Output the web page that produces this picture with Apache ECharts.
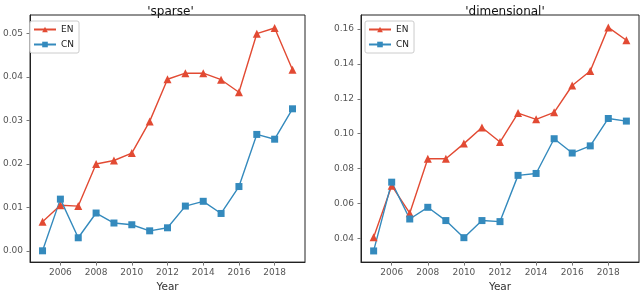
<!DOCTYPE html>
<html>
<head>
<meta charset="utf-8">
<script src="https://cdn.jsdelivr.net/npm/echarts@6/dist/echarts.min.js"></script>
<style>
html,body{margin:0;padding:0;background:#fff;}
#main{width:640px;height:298px;}
</style>
</head>
<body>
<div id="main"></div>
<script>
var years = [2005, 2006, 2007, 2008, 2009, 2010, 2011, 2012, 2013, 2014, 2015, 2016, 2017, 2018, 2019];
var sparseEN = [0.0067, 0.0105, 0.0103, 0.0200, 0.0208, 0.0225, 0.0298, 0.0395, 0.0409, 0.0409, 0.0394, 0.0365, 0.0500, 0.0513, 0.0417];
var sparseCN = [0.0000, 0.0119, 0.0030, 0.0087, 0.0064, 0.0060, 0.0046, 0.0053, 0.0103, 0.0114, 0.0086, 0.0148, 0.0268, 0.0257, 0.0327];
var dimEN = [0.0406, 0.0702, 0.0544, 0.0856, 0.0856, 0.0943, 0.1035, 0.0952, 0.1118, 0.1082, 0.1122, 0.1276, 0.1359, 0.1609, 0.1535];
var dimCN = [0.0328, 0.0722, 0.0511, 0.0578, 0.0502, 0.0404, 0.0502, 0.0496, 0.0761, 0.0772, 0.0971, 0.0889, 0.0930, 0.1087, 0.1072];
var titles = ["'sparse'", "'dimensional'"];
var seriesNames = ['EN', 'CN'];

var RED = '#E24A33', BLUE = '#348ABD';
var FONT = 'DejaVu Sans';

function pairs(vals) { return years.map(function (y, i) { return [y, vals[i]]; }); }

var chart = echarts.init(document.getElementById('main'), null, {renderer: 'canvas'});

function xAxis(gi) {
  return {
    type: 'value', gridIndex: gi, min: 2004.3, max: 2019.7, splitNumber: 7,
    name: 'Year', nameLocation: 'middle', nameGap: 15,
    nameTextStyle: {fontFamily: FONT, fontSize: 10.5, color: '#333'},
    axisLine: {show: true, onZero: false, lineStyle: {color: '#222', width: 1}},
    axisTick: {show: true, length: 3.5, lineStyle: {color: '#777'}},
    axisLabel: {fontFamily: FONT, fontSize: 9, color: '#555', margin: 6, showMinLabel: false, showMaxLabel: false,
      formatter: function (v) { return String(Math.round(v)); }},
    splitLine: {show: false}
  };
}
function yAxis(gi, mn, mx, sn) {
  return {
    type: 'value', gridIndex: gi, min: mn, max: mx, splitNumber: sn,
    axisLine: {show: true, onZero: false, lineStyle: {color: '#222', width: 1}},
    axisTick: {show: true, length: 3.5, lineStyle: {color: '#777'}},
    axisLabel: {fontFamily: FONT, fontSize: 9, color: '#555', margin: 7, showMinLabel: false, showMaxLabel: false,
      formatter: function (v) { return v.toFixed(2); }},
    splitLine: {show: false}
  };
}
function line(name, gi, vals, color, sym) {
  return {
    name: name, type: 'line', xAxisIndex: gi, yAxisIndex: gi, data: pairs(vals),
    symbol: sym, symbolSize: sym === 'triangle' ? 8 : 7,
    lineStyle: {color: color, width: 1.4},
    itemStyle: {color: color, borderColor: color, borderWidth: 0},
    showAllSymbol: true, animation: false
  };
}
function legend(left) {
  return {
    data: seriesNames, orient: 'vertical', left: left, top: 21,
    itemWidth: 22, itemHeight: 7, itemGap: 6,
    padding: [4, 5, 4, 3],
    backgroundColor: '#fff', borderColor: '#ccc', borderWidth: 1, borderRadius: 2,
    textStyle: {fontFamily: FONT, fontSize: 9, color: '#222', padding: [0, 0, 0, 0]},
    selectedMode: false
  };
}

chart.setOption({
  animation: false,
  backgroundColor: '#fff',
  title: [
    {text: titles[0], left: 165.5, top: 1, textAlign: 'center', textStyle: {fontFamily: FONT, fontSize: 12, fontWeight: 'normal', color: '#111'}},
    {text: titles[1], left: 500, top: 1, textAlign: 'center', textStyle: {fontFamily: FONT, fontSize: 12, fontWeight: 'normal', color: '#111'}}
  ],
  legend: [legend(30), legend(365)],
  grid: [
    {left: 26, top: 15, width: 279, height: 256, show: true, borderColor: '#222', borderWidth: 1, containLabel: false},
    {left: 361, top: 15, width: 278, height: 256, show: true, borderColor: '#222', borderWidth: 1, containLabel: false}
  ],
  xAxis: [xAxis(0), xAxis(1)],
  yAxis: [yAxis(0, -0.0026, 0.0543, 5), yAxis(1, 0.0264, 0.1680, 7)],
  series: [
    line('EN', 0, sparseEN, RED, 'triangle'),
    line('CN', 0, sparseCN, BLUE, 'rect'),
    line('EN', 1, dimEN, RED, 'triangle'),
    line('CN', 1, dimCN, BLUE, 'rect')
  ]
});
</script>
</body>
</html>
